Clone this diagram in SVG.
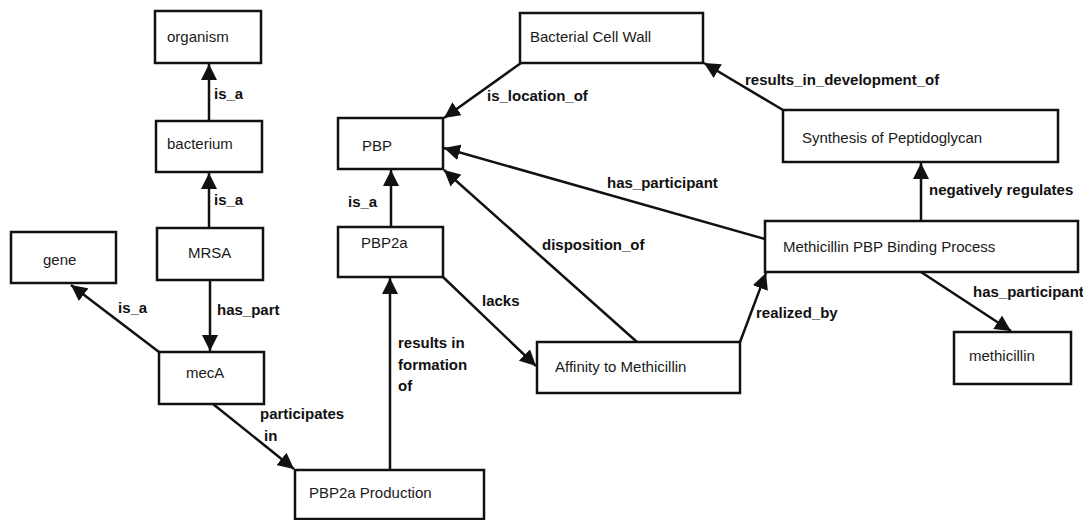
<svg xmlns="http://www.w3.org/2000/svg" width="1083" height="520" viewBox="0 0 1083 520">
<style>
.node rect{fill:#fff;stroke:#111;stroke-width:2.5}
.node text{font-family:"Liberation Sans",Arial,sans-serif;font-size:15px;fill:#1a1a1a}
.edge line{stroke:#111;stroke-width:2.5;marker-end:url(#ah)}
.lbl{font-family:"Liberation Sans",Arial,sans-serif;font-size:15px;font-weight:bold;fill:#111}
</style>
<defs>
<marker id="ah" viewBox="0 0 16 16" refX="16" refY="8" markerWidth="16" markerHeight="16" markerUnits="userSpaceOnUse" orient="auto">
<path d="M0,0 L16,8 L0,16 Z" fill="#111"/>
</marker>
</defs>
<rect width="1083" height="520" fill="#fff"/>
<g id="connectors" class="edge">
<line x1="209" y1="121" x2="209" y2="64"/>
<line x1="209" y1="228" x2="209" y2="173"/>
<line x1="210" y1="280" x2="210" y2="351"/>
<line x1="159" y1="352" x2="71" y2="285"/>
<line x1="213" y1="404" x2="294" y2="469"/>
<line x1="390" y1="470" x2="390" y2="278"/>
<line x1="391" y1="227" x2="391" y2="170"/>
<line x1="443" y1="277" x2="536" y2="366"/>
<line x1="637" y1="342" x2="444" y2="170"/>
<line x1="521" y1="63" x2="444" y2="118"/>
<line x1="765" y1="239" x2="444" y2="148"/>
<line x1="783" y1="110" x2="704" y2="63"/>
<line x1="921" y1="221" x2="921" y2="163"/>
<line x1="740" y1="342" x2="766" y2="273"/>
<line x1="921" y1="272" x2="1011" y2="331"/>
</g>
<g id="labels">
<text class="lbl" x="214" y="99">is_a</text>
<text class="lbl" x="214" y="205">is_a</text>
<text class="lbl" x="217" y="315">has_part</text>
<text class="lbl" x="118" y="313">is_a</text>
<text class="lbl" x="260" y="419">participates</text>
<text class="lbl" x="264" y="441">in</text>
<text class="lbl" x="398" y="348">results in</text>
<text class="lbl" x="398" y="370">formation</text>
<text class="lbl" x="398" y="391">of</text>
<text class="lbl" x="348" y="207">is_a</text>
<text class="lbl" x="482" y="306">lacks</text>
<text class="lbl" x="542" y="250">disposition_of</text>
<text class="lbl" x="487" y="101">is_location_of</text>
<text class="lbl" x="607" y="188">has_participant</text>
<text class="lbl" x="745" y="85">results_in_development_of</text>
<text class="lbl" x="929" y="195">negatively regulates</text>
<text class="lbl" x="756" y="318">realized_by</text>
<text class="lbl" x="973" y="297">has_participant</text>
</g>
<g id="organism" class="node"><rect x="155" y="11" width="106" height="52"/><text x="167" y="42">organism</text></g>
<g id="bacterium" class="node"><rect x="156" y="121" width="106" height="51"/><text x="167" y="149">bacterium</text></g>
<g id="mrsa" class="node"><rect x="157" y="228" width="106" height="52"/><text x="188" y="258">MRSA</text></g>
<g id="gene" class="node"><rect x="11" y="232" width="105" height="51"/><text x="43" y="265">gene</text></g>
<g id="meca" class="node"><rect x="159" y="352" width="105" height="52"/><text x="186" y="378">mecA</text></g>
<g id="pbp2a-production" class="node"><rect x="295" y="470" width="189" height="49"/><text x="309" y="498">PBP2a Production</text></g>
<g id="pbp" class="node"><rect x="338" y="118" width="105" height="51"/><text x="362" y="151">PBP</text></g>
<g id="pbp2a" class="node"><rect x="338" y="227" width="105" height="50"/><text x="361" y="248">PBP2a</text></g>
<g id="bacterial-cell-wall" class="node"><rect x="520" y="13" width="183" height="50"/><text x="530" y="42">Bacterial Cell Wall</text></g>
<g id="affinity" class="node"><rect x="537" y="342" width="203" height="51"/><text x="555" y="372">Affinity to Methicillin</text></g>
<g id="synthesis" class="node"><rect x="783" y="110" width="275" height="52"/><text x="802" y="143">Synthesis of Peptidoglycan</text></g>
<g id="binding-process" class="node"><rect x="765" y="221" width="313" height="51"/><text x="783" y="252">Methicillin PBP Binding Process</text></g>
<g id="methicillin" class="node"><rect x="954" y="332" width="117" height="52"/><text x="969" y="361">methicillin</text></g>
</svg>
